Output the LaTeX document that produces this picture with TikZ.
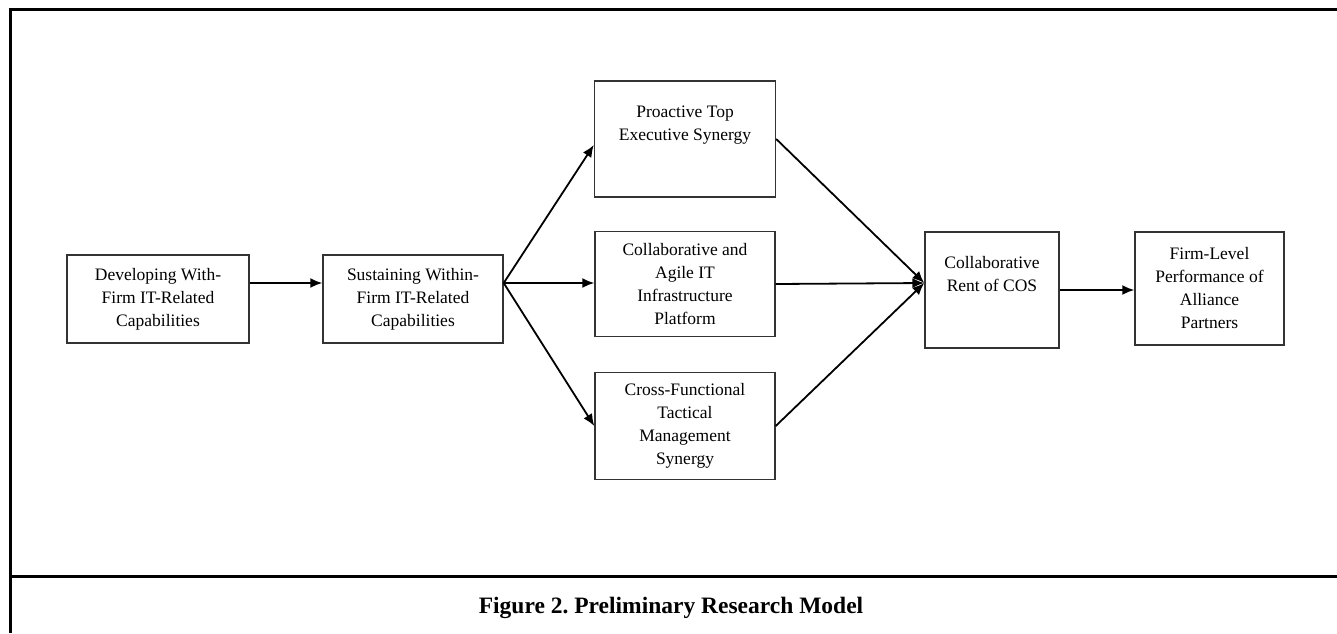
\documentclass[tikz,border=0pt]{standalone}
\usepackage{fontspec}
\setmainfont{Liberation Serif}
\usetikzlibrary{arrows.meta}
\frenchspacing
\begin{document}
\begin{tikzpicture}[x=1pt,y=-1pt,
	box/.style={draw=black!80,line width=1.4pt,align=center,inner sep=0pt,
		font=\fontsize{17.5}{23}\selectfont},
	link/.style={-{Latex[length=12pt,width=10pt]},line width=1.8pt}]
	\useasboundingbox (0,0) rectangle (1337,633);
	\draw[line width=3pt] (1337,9) -- (10,9) -- (10,633);
	\draw[line width=3pt] (10,576) -- (1337,576);

	\node[box,minimum width=182pt,minimum height=88pt] (dev) at (158,299) {Developing With-\\Firm IT-Related\\Capabilities};
	\node[box,minimum width=180pt,minimum height=88pt] (sus) at (413,299) {Sustaining Within-\\Firm IT-Related\\Capabilities};
	\node[box,minimum width=181pt,minimum height=116pt] (top) at (685,139) {Proactive Top\\Executive Synergy\\[8pt]};
	\node[box,minimum width=180pt,minimum height=105pt] (infra) at (685,284) {Collaborative and\\Agile IT\\Infrastructure\\Platform};
	\node[box,minimum width=180pt,minimum height=107pt] (cross) at (685,426) {Cross-Functional\\Tactical\\Management\\Synergy};
	\node[box,minimum width=134pt,minimum height=116pt] (rent) at (992,290) {Collaborative\\Rent of COS\\[10pt]};
	\node[box,minimum width=149pt,minimum height=113pt] (perf) at (1209.5,288.5) {Firm-Level\\Performance of\\Alliance\\Partners};

	\coordinate (fork) at ([yshift=16pt]sus.east);
	\coordinate (join) at ([yshift=7pt]rent.west);
	\draw[link] ([yshift=16pt]dev.east) -- (fork -| sus.west);
	\draw[link] (fork) -- ([yshift=-6pt]top.west);
	\draw[link] (fork) -- (fork -| infra.west);
	\draw[link] (fork) -- (cross.west);
	\draw[link] (top.east) -- (join);
	\draw[link] (infra.east) -- (join);
	\draw[link] (cross.east) -- (join);
	\draw[link] (rent.east) -- (rent.east -| perf.west);

	\node[font=\fontsize{23.5}{28}\selectfont\bfseries] (cap) at (671,608) {Figure 2. Preliminary Research Model};
\end{tikzpicture}
\end{document}
